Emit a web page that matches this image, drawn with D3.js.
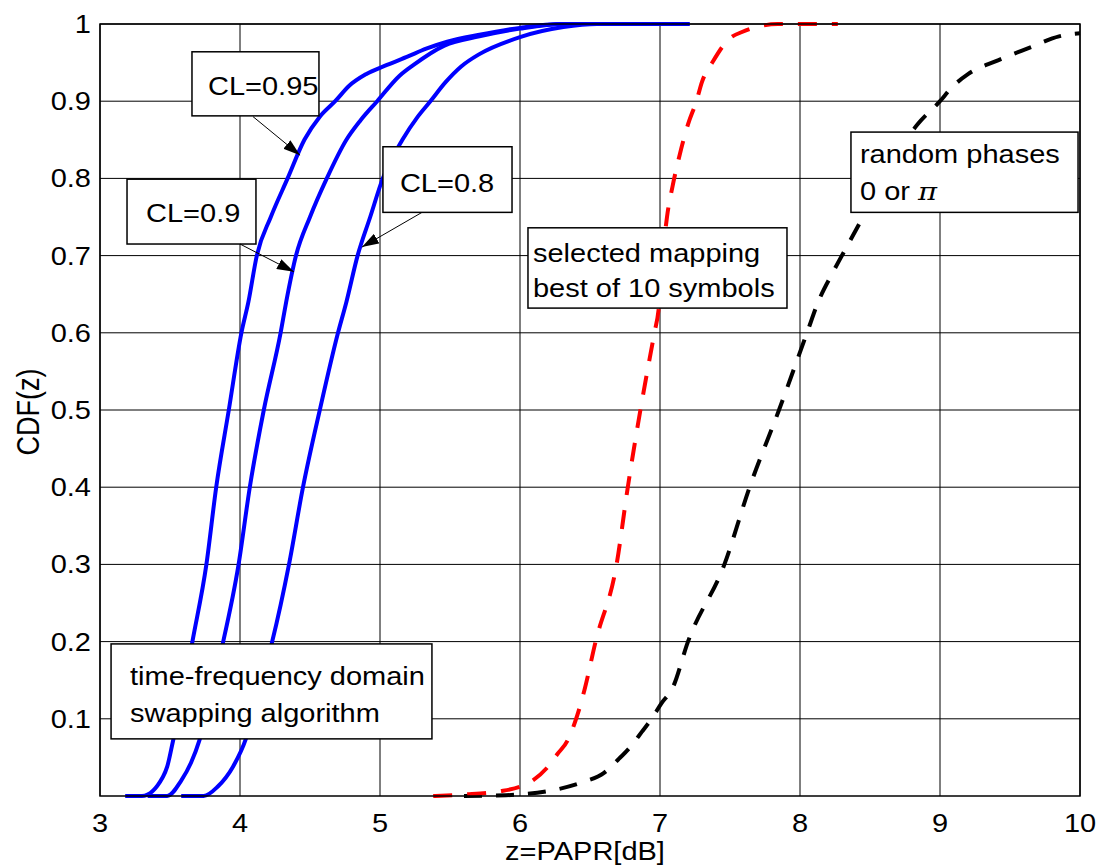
<!DOCTYPE html>
<meta charset="utf-8">
<style>
html,
body {
    margin: 0;
    padding: 0;
    background: #fff;
}

svg {
    display: block;
}

text {
    font-family: "Liberation Sans", Arial, Helvetica, sans-serif;
    font-size: 25px;
    fill: #000;
}
</style>
<svg width="1097" height="867"></svg>
<script src="https://d3js.org/d3.v7.min.js"></script>
<script>
// tick values and labels
var xTicks = [3, 4, 5, 6, 7, 8, 9, 10];
var yTicks = [0.1, 0.2, 0.3, 0.4, 0.5, 0.6, 0.7, 0.8, 0.9, 1];
var yTickLabels = ["0.1", "0.2", "0.3", "0.4", "0.5", "0.6", "0.7", "0.8", "0.9", "1"];

// [PAPR dB, CDF]
var cl95 = [[3.18, 0], [3.30, 0], [3.45, 0.025], [3.48, 0.038], [3.52, 0.07], [3.58, 0.12],
    [3.66, 0.2], [3.76, 0.3], [3.83, 0.4], [3.92, 0.5], [4.01, 0.6], [4.06, 0.64], [4.12, 0.7],
    [4.22, 0.75], [4.34, 0.8], [4.46, 0.85], [4.57, 0.88], [4.68, 0.9], [4.78, 0.92], [4.9, 0.935],
    [5.05, 0.947], [5.2, 0.958], [5.33, 0.968], [5.48, 0.977], [5.71, 0.986], [6.0, 0.995],
    [6.29, 1.0], [7.21, 1.0]];

var cl90 = [[3.34, 0], [3.48, 0], [3.58, 0.02], [3.65, 0.043], [3.71, 0.072], [3.80, 0.14],
    [3.88, 0.2], [3.99, 0.3], [4.07, 0.4], [4.17, 0.5], [4.29, 0.6], [4.33, 0.64], [4.40, 0.7],
    [4.50, 0.75], [4.62, 0.8], [4.76, 0.85], [4.86, 0.875], [4.98, 0.9], [5.14, 0.933], [5.24, 0.947],
    [5.46, 0.972], [5.71, 0.984], [6.0, 0.994], [6.31, 1.0], [7.21, 1.0]];

var cl80 = [[3.58, 0], [3.74, 0], [3.84, 0.012], [3.95, 0.038], [4.04, 0.073], [4.14, 0.14],
    [4.23, 0.2], [4.35, 0.3], [4.45, 0.4], [4.57, 0.5], [4.70, 0.6], [4.76, 0.64], [4.84, 0.7],
    [4.93, 0.75], [5.02, 0.8], [5.16, 0.85], [5.27, 0.88], [5.36, 0.9], [5.47, 0.925], [5.58, 0.945],
    [5.71, 0.961], [6.0, 0.983], [6.31, 0.996], [6.55, 1.0], [7.21, 1.0]];

var selMap = [[5.38, 0], [5.6, 0.002], [5.85, 0.006], [6.0, 0.012], [6.09, 0.02], [6.19, 0.036],
    [6.27, 0.055], [6.34, 0.072], [6.41, 0.105], [6.46, 0.137], [6.54, 0.2], [6.69, 0.3],
    [6.77, 0.4], [6.86, 0.5], [6.96, 0.6], [6.99, 0.63], [7.02, 0.7], [7.05, 0.75], [7.09, 0.79],
    [7.14, 0.83], [7.2, 0.87], [7.26, 0.9], [7.3, 0.925], [7.38, 0.952], [7.49, 0.98],
    [7.59, 0.99], [7.71, 0.997], [7.84, 1.0], [8.27, 1.0]];

var randPh = [[5.6, 0], [5.9, 0.001], [6.0, 0.002], [6.25, 0.008], [6.45, 0.018], [6.6, 0.03],
    [6.7, 0.047], [6.79, 0.064], [6.87, 0.083], [6.94, 0.10], [7.01, 0.12], [7.09, 0.14],
    [7.20, 0.2], [7.46, 0.3], [7.64, 0.4], [7.85, 0.5], [8.05, 0.6], [8.13, 0.64], [8.24, 0.68],
    [8.36, 0.72], [8.45, 0.75], [8.6, 0.8], [8.72, 0.84], [8.84, 0.87], [9.0, 0.9], [9.08, 0.917],
    [9.2, 0.935], [9.4, 0.952], [9.65, 0.97], [9.85, 0.984], [10, 0.988]];

var series = [
    {data: cl95, color: "#0000ff", dash: null},
    {data: cl90, color: "#0000ff", dash: null},
    {data: cl80, color: "#0000ff", dash: null},
    {data: randPh, color: "#000000", dash: "18,14"},
    {data: selMap, color: "#ff0000", dash: "19,15"}
];

var svg = d3.select("svg");

var pLeft = 100, pRight = 1080, pTop = 24, pBottom = 796;
var x = d3.scaleLinear().domain([3, 10]).range([pLeft, pRight]);
var y = d3.scaleLinear().domain([0, 1]).range([pBottom, pTop]);

// stretched text: the reference glyphs are wider than they are tall
var stretch = 1.16;
function place(sel, px, py) {
    return sel.attr("transform", "translate(" + px + "," + py + ") scale(" + stretch + ",1)");
}

// grid
var grid = svg.append("g").attr("stroke", "#000").attr("stroke-width", 1);
grid.selectAll("line.vx")
    .data(xTicks)
    .enter().append("line")
    .attr("x1", function(d) { return x(d); })
    .attr("x2", function(d) { return x(d); })
    .attr("y1", pTop)
    .attr("y2", pBottom);
grid.selectAll("line.hy")
    .data(yTicks)
    .enter().append("line")
    .attr("x1", pLeft)
    .attr("x2", pRight)
    .attr("y1", function(d) { return y(d); })
    .attr("y2", function(d) { return y(d); });

// curves
var line = d3.line()
    .curve(d3.curveMonotoneX)
    .x(function(d) { return x(d[0]); })
    .y(function(d) { return y(d[1]); });

svg.append("g")
    .selectAll("path")
    .data(series)
    .enter().append("path")
    .attr("d", function(d) { return line(d.data); })
    .attr("fill", "none")
    .attr("stroke", function(d) { return d.color; })
    .attr("stroke-width", 4)
    .attr("stroke-dasharray", function(d) { return d.dash; });

// axis box
svg.append("rect")
    .attr("x", pLeft)
    .attr("y", pTop)
    .attr("width", pRight - pLeft)
    .attr("height", pBottom - pTop)
    .attr("fill", "none")
    .attr("stroke", "#000")
    .attr("stroke-width", 1.5);

// tick labels
svg.append("g")
    .selectAll("text")
    .data(xTicks)
    .enter().append("text")
    .attr("text-anchor", "middle")
    .text(function(d) { return d; })
    .each(function(d) { place(d3.select(this), x(d), 832); });

svg.append("g")
    .selectAll("text")
    .data(yTicks)
    .enter().append("text")
    .attr("text-anchor", "end")
    .attr("dy", "0.36em")
    .text(function(d, i) { return yTickLabels[i]; })
    .each(function(d) { place(d3.select(this), 91, y(d)); });

place(svg.append("text").attr("text-anchor", "middle").text("z=PAPR[dB]"), (pLeft + pRight) / 2 - 5, 860);

svg.append("text")
    .attr("text-anchor", "middle")
    .style("font-size", "27px")
    .attr("transform", "translate(39," + ((pTop + pBottom) / 2 + 2) + ") rotate(-90) scale(1," + stretch + ")")
    .text("CDF(z)");

// annotations: box corners in data units, text offset in px
var notes = [
    {lines: ["CL=0.95"], x0: 3.657, x1: 4.564, y0: 0.964, y1: 0.881, pad: 16, base: [43]},
    {lines: ["CL=0.9"], x0: 3.193, x1: 4.114, y0: 0.799, y1: 0.715, pad: 19, base: [43]},
    {lines: ["CL=0.8"], x0: 5.021, x1: 5.943, y0: 0.841, y1: 0.756, pad: 17, base: [45]},
    {lines: ["selected mapping", "best of 10 symbols"], x0: 6.057, x1: 7.907, y0: 0.736, y1: 0.632, pad: 5, base: [34, 69]},
    {lines: ["random phases", "0 or \u03c0"], x0: 8.364, x1: 9.986, y0: 0.860, y1: 0.756, pad: 9, base: [31, 68]},
    {lines: ["time-frequency domain", "swapping algorithm"], x0: 3.079, x1: 5.371, y0: 0.197, y1: 0.074, pad: 19, base: [41, 78]}
];

var arrows = [
    [4.093, 0.880, 4.429, 0.830],
    [4.0, 0.715, 4.385, 0.679],
    [5.3, 0.756, 4.871, 0.711]
];

svg.append("defs").append("marker")
    .attr("id", "head")
    .attr("markerUnits", "userSpaceOnUse")
    .attr("markerWidth", 17)
    .attr("markerHeight", 11)
    .attr("refX", 17)
    .attr("refY", 5.5)
    .attr("orient", "auto")
    .append("path")
    .attr("d", "M0,0 L17,5.5 L0,11 Z")
    .attr("fill", "#000");

var ng = svg.append("g")
    .selectAll("g")
    .data(notes)
    .enter().append("g");

ng.append("rect")
    .attr("x", function(d) { return x(d.x0); })
    .attr("y", function(d) { return y(d.y0); })
    .attr("width", function(d) { return x(d.x1) - x(d.x0); })
    .attr("height", function(d) { return y(d.y1) - y(d.y0); })
    .attr("fill", "#fff")
    .attr("stroke", "#000")
    .attr("stroke-width", 1.5);

ng.each(function(d) {
    var g = d3.select(this);
    d.lines.forEach(function(t, i) {
        var tx = g.append("text").text(t);
        if (t.indexOf("\u03c0") >= 0) {
            tx.text("0 or ");
            tx.append("tspan").attr("font-family", "'DejaVu Serif', serif").attr("font-style", "italic").text("\u03c0");
        }
        place(tx, x(d.x0) + d.pad, y(d.y0) + d.base[i]);
    });
});

svg.append("g")
    .selectAll("line")
    .data(arrows)
    .enter().append("line")
    .attr("x1", function(d) { return x(d[0]); })
    .attr("y1", function(d) { return y(d[1]); })
    .attr("x2", function(d) { return x(d[2]); })
    .attr("y2", function(d) { return y(d[3]); })
    .attr("stroke", "#000")
    .attr("stroke-width", 1)
    .attr("marker-end", "url(#head)");
</script>
